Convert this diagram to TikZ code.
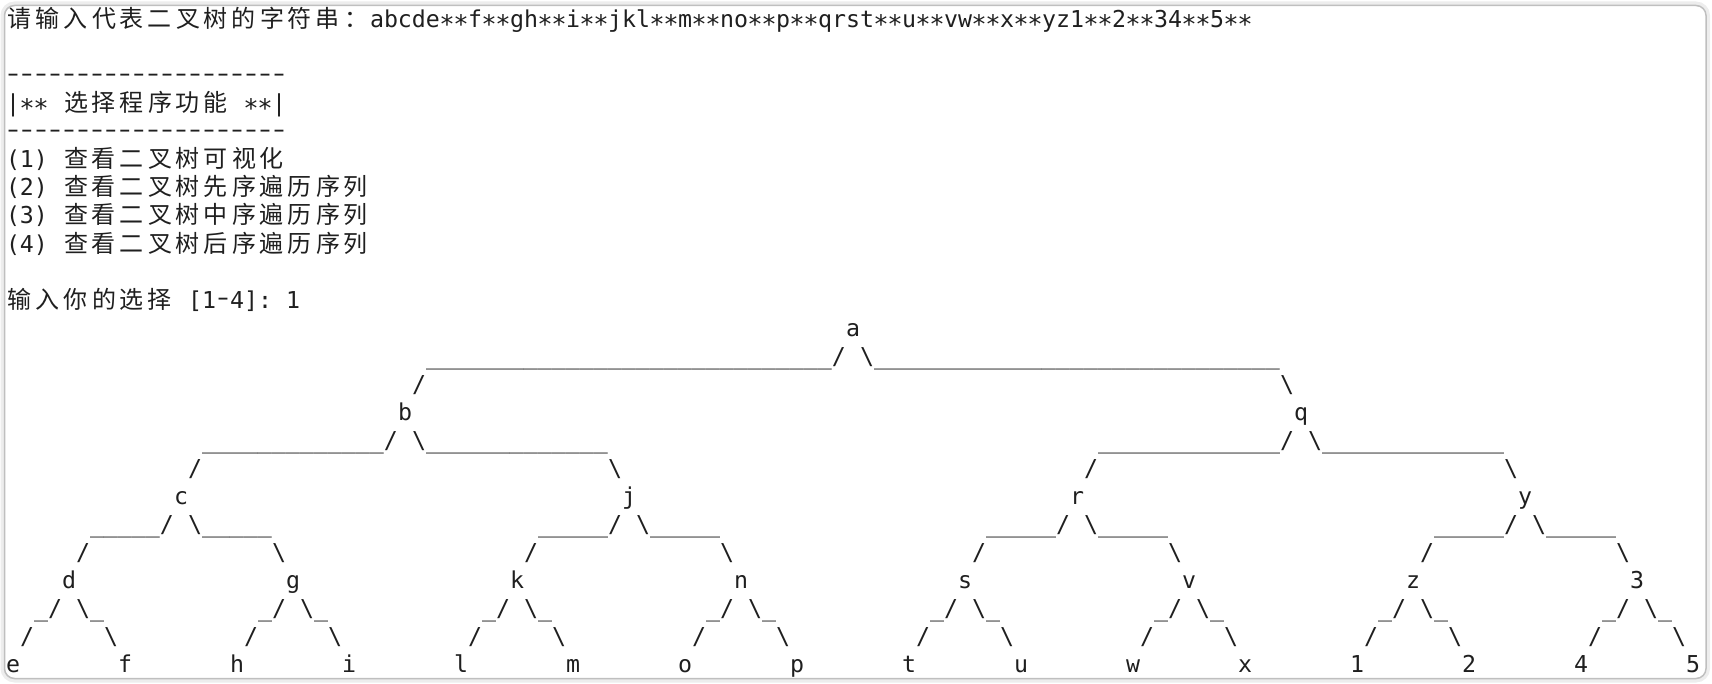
\documentclass[tikz,border=0pt]{standalone}
\usepackage{fontspec}
\usepackage{graphicx}
\setmonofont{DejaVu Sans Mono}
\newfontfamily\cjkf{Noto Sans CJK SC}
\newcommand\Ast{\makebox[7pt][c]{\raisebox{-2.6pt}{\scalebox{1.1}{*}}}}
\newcommand\AS{\Ast\Ast}
\newcommand\Dsh{\makebox[7pt][c]{\raisebox{1.2pt}{\scalebox{1.5}[1]{-}}}}
\ExplSyntaxOn
\cs_new:Npn \Usc #1 { \prg_replicate:nn {#1} { \textunderscore } }
\cs_new:Npn \Dshs #1 { \prg_replicate:nn {#1} { \Dsh } }
\cs_new_protected:Npn \cjs #1 { \tl_map_inline:nn {#1} { \makebox[14pt][c]{\cjkf\fontsize{12pt}{14pt}\selectfont ##1} } }
\ExplSyntaxOff
\tikzset{
  tt/.style={font=\ttfamily\fontsize{11.627pt}{14pt}\selectfont, anchor=base west, inner sep=0pt, outer sep=0pt, text=black!88},
  frameshadow/.style={draw=black!7, line width=2pt, rounded corners=6pt},
  frameline/.style={draw=black!25, line width=0.75pt, rounded corners=5pt}
}
\newcommand\Tn[4]{\node[tt] (#1) at ({6+14*(#3)},{28+28*(#2)}) {#4};}
\begin{document}
\begin{tikzpicture}[x=0.5pt,y=-0.5pt]
\useasboundingbox (0,0) rectangle (1712,684);
\draw[frameshadow] (2.5,3.5) rectangle (1708,680.5);
\draw[frameline] (4.5,5.5) rectangle (1706,678.5);
% header text
\Tn{l0}{0}{0}{\cjs{请输入代表二叉树的字符串：}abcde\AS f\AS gh\AS i\AS jkl\AS m\AS no\AS p\AS qrst\AS u\AS vw\AS x\AS yz1\AS 2\AS 34\AS 5\AS}
\Tn{l2}{2}{0}{\Dshs{20}}
\Tn{l3a}{3}{0}{|\AS}
\Tn{l3b}{3}{4}{\cjs{选择程序功能}}
\Tn{l3c}{3}{17}{\AS|}
\Tn{l4}{4}{0}{\Dshs{20}}
\Tn{l5a}{5}{0}{(1)}
\Tn{l5b}{5}{4}{\cjs{查看二叉树可视化}}
\Tn{l6a}{6}{0}{(2)}
\Tn{l6b}{6}{4}{\cjs{查看二叉树先序遍历序列}}
\Tn{l7a}{7}{0}{(3)}
\Tn{l7b}{7}{4}{\cjs{查看二叉树中序遍历序列}}
\Tn{l8a}{8}{0}{(4)}
\Tn{l8b}{8}{4}{\cjs{查看二叉树后序遍历序列}}
\Tn{l10a}{10}{0}{\cjs{输入你的选择}}
\Tn{l10b}{10}{13}{[1\Dsh 4]:}
\Tn{l10c}{10}{20}{1}
% tree
\Tn{na}{11}{60}{a}
\Tn{r12l}{12}{30}{\Usc{29}/}
\Tn{r12r}{12}{61}{\textbackslash\Usc{29}}
\Tn{r13l}{13}{29}{/}
\Tn{r13r}{13}{91}{\textbackslash}
\Tn{nb}{14}{28}{b}
\Tn{nq}{14}{92}{q}
\foreach \p in {28,92}{
  \Tn{r15l\p}{15}{\p-14}{\Usc{13}/}
  \Tn{r15r\p}{15}{\p+1}{\textbackslash\Usc{13}}
  \Tn{r16l\p}{16}{\p-15}{/}
  \Tn{r16r\p}{16}{\p+15}{\textbackslash}
}
\foreach \p/\lab in {12/c,44/j,76/r,108/y}{
  \Tn{n\lab}{17}{\p}{\lab}
  \Tn{r18l\p}{18}{\p-6}{\Usc{5}/}
  \Tn{r18r\p}{18}{\p+1}{\textbackslash\Usc{5}}
  \Tn{r19l\p}{19}{\p-7}{/}
  \Tn{r19r\p}{19}{\p+7}{\textbackslash}
}
\foreach \p/\lab in {4/d,20/g,36/k,52/n,68/s,84/v,100/z,116/3}{
  \Tn{n\lab}{20}{\p}{\lab}
  \Tn{r21l\p}{21}{\p-2}{\textunderscore/}
  \Tn{r21r\p}{21}{\p+1}{\textbackslash\textunderscore}
  \Tn{r22l\p}{22}{\p-3}{/}
  \Tn{r22r\p}{22}{\p+3}{\textbackslash}
}
\foreach \k/\lab in {0/e,1/f,2/h,3/i,4/l,5/m,6/o,7/p,8/t,9/u,10/w,11/x,12/1,13/2,14/4,15/5}{
  \Tn{lf\k}{23}{8*\k}{\lab}
}
\end{tikzpicture}
\end{document}
